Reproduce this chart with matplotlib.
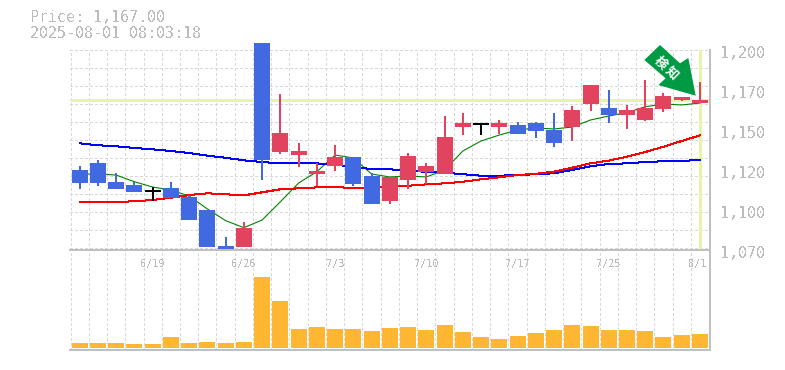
import matplotlib
matplotlib.use("Agg")
import matplotlib.pyplot as plt
from matplotlib.patches import Polygon
import numpy as np

W, H = 785, 370

opens = [1123.25, 1127.6, 1115.75, 1113.9, 1110, 1112, 1106.4, 1098.25, 1075.75, 1075.1,
         1202.6, 1134.7, 1132.6, 1120.75, 1125.75, 1131.4, 1119.5, 1103.9, 1117, 1122,
         1120.75, 1150.1, 1152.3, 1150.1, 1151.4, 1152.6, 1148.25, 1150.1, 1164.5, 1162,
         1157.6, 1154.5, 1161.4, 1167, 1165.1]
closes = [1115.3, 1115.3, 1111.4, 1109.5, 1110, 1105.75, 1092, 1075.1, 1073.25, 1087,
          1129.7, 1146.4, 1135.1, 1122.6, 1131.4, 1114.5, 1102, 1118.9, 1132, 1125.75,
          1143.9, 1152.6, 1152.3, 1152.6, 1145.75, 1147.6, 1140.1, 1160.75, 1176.4, 1157.6,
          1160.75, 1162, 1169.5, 1168.9, 1167]
highs = [1125.75, 1129.5, 1121.4, 1115.75, 1112.4, 1115.75, 1107.6, 1098.25, 1081.4, 1090.75,
         1202.6, 1170.75, 1140.1, 1127.6, 1138.9, 1131.4, 1121.4, 1118.9, 1133.9, 1127.6,
         1157, 1158.9, 1152.3, 1154.5, 1153.25, 1153.25, 1158.9, 1163.25, 1176.4, 1173.25,
         1163.9, 1179.5, 1171.4, 1168.9, 1178.25]
lows = [1111.4, 1113.4, 1111.4, 1109.5, 1104.1, 1105.75, 1092, 1075.1, 1073.25, 1075.1,
        1117.2, 1133.4, 1125.1, 1113.25, 1122.6, 1113.25, 1102, 1102, 1111.4, 1114.5,
        1120.75, 1145.1, 1145.1, 1145.75, 1145.75, 1143.25, 1137.6, 1141.4, 1160.1, 1152.6,
        1148.9, 1153.9, 1159.5, 1166.4, 1165.1]

ma_short = [1120.75, 1120.75, 1120.1, 1115.9, 1112.6, 1110.75, 1107, 1098.9, 1091.6, 1087.2,
            1092, 1103.4, 1115.1, 1122.2, 1132.6, 1130.75, 1120.75, 1118.9, 1119.5, 1118.9,
            1123.25, 1135.1, 1141.4, 1145.1, 1148.25, 1149.5, 1148.9, 1150.1, 1154.5, 1157,
            1159.1, 1162.8, 1164.5, 1163.9, 1165.1]
ma_mid = [1139.9, 1138.7, 1138.1, 1137, 1136.2, 1135.1, 1133.9, 1132.2, 1130.9, 1129.3,
          1128.25, 1127.4, 1127.4, 1127.4, 1126.4, 1125.6, 1123.7, 1123.7, 1122.6, 1122.2,
          1121.6, 1120.6, 1119.7, 1119.7, 1120.1, 1120.6, 1121.2, 1123.25, 1125.6, 1127,
          1127.4, 1128.25, 1128.7, 1129.1, 1129.3]
ma_long = [1103.1, 1103.1, 1103.25, 1103.7, 1104.5, 1105.9, 1107.6, 1108.7, 1108.1, 1107.4,
           1109.3, 1111.2, 1111.8, 1112.4, 1112.4, 1112.2, 1111.6, 1113.25, 1113.4, 1114.3,
           1114.9, 1115.9, 1117.4, 1118.7, 1120.1, 1120.9, 1122.2, 1124.7, 1127.4, 1129.1,
           1131.6, 1134.5, 1137.8, 1141.4, 1144.9]

volumes = [5, 5, 5, 4, 4, 11, 5, 6, 5, 6, 71, 47, 19, 21, 19, 19, 17, 20, 21, 18,
           23, 16, 11, 9, 12, 15, 18, 23, 22, 18, 18, 17, 11, 13, 14]

last_price = 1167
date_pos = [4, 9, 14, 19, 24, 29, 34]
date_labels = ["6/19", "6/26", "7/3", "7/10", "7/17", "7/25", "8/1"]
price_labels = ["1,200", "1,170", "1,150", "1,120", "1,100", "1,070"]

GRAY = "#bcbcbc"
RED = "#e2445f"
BLUE = "#4169e1"
YELLOW = "#e6f5aa"
PX = 0.72  # one pixel in points at dpi 100

fig = plt.figure(figsize=(W / 100, H / 100), dpi=100)
ax = fig.add_axes([70 / W, 1 - 250 / H, 640 / W, 200 / H])
ax_vol = fig.add_axes([70 / W, 1 - 350 / H, 640 / W, 100 / H], sharex=ax)

x = np.arange(len(opens))
xlim = (-0.53, 34.55)
ax.set_xlim(*xlim)
ax.set_ylim(1073.25, 1198.25)
ax_vol.set_ylim(-2, 98)

# grid
for a in (ax, ax_vol):
    a.vlines(x[:-1] + 0.5, 0, 1, transform=a.get_xaxis_transform(), color="#d8d8d8",
             lw=1.4 * PX, linestyles=(0, (2, 2)), antialiased=False, zorder=1)
    a.vlines(xlim[0] + 0.03, 0, 1, transform=a.get_xaxis_transform(), color="#d8d8d8",
             lw=1.4 * PX, linestyles=(0, (2, 2)), antialiased=False, zorder=1)
    a.tick_params(left=False, bottom=False, labelleft=False, labelbottom=False)
    a.patch.set_alpha(0)
    for s in a.spines.values():
        s.set_visible(False)
ax.hlines(1074.5 + 11.25 * np.arange(12), xlim[0], xlim[1], color="#d8d8d8",
          lw=1.4 * PX, linestyles=(0, (2, 2)), antialiased=False, zorder=1, clip_on=False)

# last price markers
ax.axhline(last_price, color=YELLOW, lw=3 * PX, zorder=2)
ax.axvline(x[-1], color=YELLOW, lw=3 * PX, zorder=2)

# moving averages go behind the candles
ax.plot(x, ma_short, color="#008000", lw=1.1 * PX, zorder=3)
ax.plot(x, ma_mid, color="#0000ff", lw=1.0 * PX, zorder=3, antialiased=False)
ax.plot(x, ma_long, color="#ff0000", lw=1.0 * PX, zorder=3, antialiased=False)

# candles
for i in x:
    o, c = opens[i], closes[i]
    col = "black" if o == c else (RED if c > o else BLUE)
    ax.vlines(i, lows[i], highs[i], color=col, lw=1.5 * PX, zorder=4, clip_on=False,
              antialiased=False)
    if o == c:
        ax.hlines(o, i - 0.44, i + 0.44, color=col, lw=1.5 * PX, zorder=4, antialiased=False)
    else:
        ax.bar(i, abs(c - o), bottom=min(o, c), width=0.877, color=col, zorder=4,
               clip_on=False, antialiased=False)

ax_vol.bar(x, volumes, width=0.877, color="#ffb733", zorder=3, antialiased=False)

# panel frame
ax_vol.spines["top"].set_visible(True)
ax_vol.spines["bottom"].set_visible(True)
for name in ("top", "bottom"):
    ax_vol.spines[name].set_color("#c0c0c0")
    ax_vol.spines[name].set_linewidth(2 * PX)
for a in (ax, ax_vol):
    a.spines["right"].set_visible(True)
    a.spines["right"].set_color("#c0c0c0")
    a.spines["right"].set_linewidth(2 * PX)

# texts
mono = "DejaVu Sans Mono"
fig.text(30 / W, 1 - 18 / H, "Price: 1,167.00", family=mono, fontsize=10.8, color=GRAY,
         va="center", antialiased=False)
fig.text(30 / W, 1 - 33 / H, "2025-08-01 08:03:18", family=mono, fontsize=10.8, color=GRAY,
         va="center", antialiased=False)
for k, lab in enumerate(price_labels):
    fig.text(720 / W, 1 - (53 + 40 * k) / H, lab, family=mono, fontsize=10.8, color=GRAY,
             va="center", antialiased=False)
for pos, lab in zip(date_pos, date_labels):
    ha = "right" if lab == "8/1" else "center"
    px = x[pos] + (0.35 if lab == "8/1" else 0)
    ax_vol.text(px, 0.865, lab, transform=ax_vol.get_xaxis_transform(), family=mono,
                fontsize=7.4, color=GRAY, ha=ha, va="center", antialiased=False, zorder=5)

# arrow badge
arrow_px = [(660, 45), (680, 63.3), (688.3, 58), (695.7, 95.7), (658.3, 85), (665.7, 78.3), (644.3, 60)]
fig.add_artist(Polygon([(px / W, 1 - py / H) for px, py in arrow_px], closed=True,
                       transform=fig.transFigure, facecolor="#009944", edgecolor="none", zorder=10))
for cx, cy, ch in [(660, 62.7, "検"), (671.7, 73.3, "知")]:
    fig.text(cx / W, 1 - cy / H, ch, family=["Noto Sans CJK JP", "DejaVu Sans"], fontsize=9,
             fontweight="bold", color="white", rotation=-45, ha="center", va="center", zorder=11)

fig.savefig("out.png", dpi=100)
